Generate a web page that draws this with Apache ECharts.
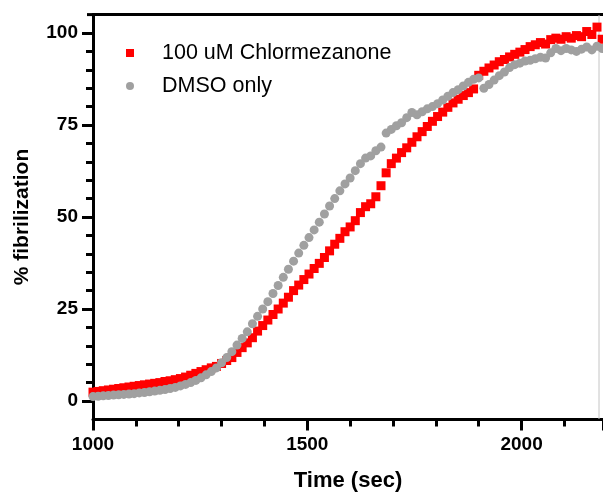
<!DOCTYPE html>
<html>
<head>
<meta charset="utf-8">
<script src="https://cdn.jsdelivr.net/npm/echarts@6/dist/echarts.min.js"></script>
<style>
  html, body { margin: 0; padding: 0; background: #fff; }
  #chart { width: 603px; height: 496px; }
</style>
</head>
<body>
<div id="chart"></div>
<script>
// sample times (sec)
const times = [
  1000, 1012, 1024, 1036, 1048, 1060, 1072, 1084, 1096, 1108,
  1120, 1132, 1144, 1156, 1168, 1180, 1192, 1204, 1216, 1228,
  1240, 1252, 1264, 1276, 1288, 1300, 1312, 1324, 1336, 1348,
  1360, 1372, 1384, 1396, 1408, 1420, 1432, 1444, 1456, 1468,
  1480, 1492, 1504, 1516, 1528, 1540, 1552, 1564, 1576, 1588,
  1600, 1612, 1624, 1636, 1648, 1660, 1672, 1684, 1696, 1708,
  1720, 1732, 1744, 1756, 1768, 1780, 1792, 1804, 1816, 1828,
  1840, 1852, 1864, 1876, 1888, 1900, 1912, 1924, 1936, 1948,
  1960, 1972, 1984, 1996, 2008, 2020, 2032, 2044, 2056, 2068,
  2080, 2092, 2104, 2116, 2128, 2140, 2152, 2164, 2176, 2188
];

// 100 uM Chlormezanone
const chlorValues = [
  2.4, 2.6, 2.8, 3.0, 3.2, 3.4, 3.6, 3.8, 4.0, 4.2,
  4.4, 4.6, 4.8, 5.0, 5.3, 5.5, 5.8, 6.1, 6.5, 7.0,
  7.5, 8.0, 8.5, 9.0, 9.4, 10.2, 11.0, 11.8, 13.2, 14.5,
  15.8, 17.2, 19.0, 20.5, 22.0, 23.5, 25.0, 26.6, 28.2, 30.0,
  31.5, 33.0, 34.5, 36.0, 37.4, 39.0, 40.8, 42.6, 44.2, 46.0,
  47.3, 49.0, 51.2, 52.8, 53.6, 55.5, 58.5, 62.0, 64.5, 66.0,
  67.5, 68.8, 70.3, 71.8, 73.2, 74.6, 76.0, 77.3, 78.5, 79.8,
  81.0, 82.0, 83.0, 83.8, 84.8, 88.5, 89.6, 90.5, 91.3, 92.2,
  92.8, 93.5, 94.2, 94.8, 95.5, 96.3, 96.8, 97.4, 97.0, 98.2,
  98.6, 98.3, 99.0, 98.6, 99.3, 99.0, 100.4, 99.6, 101.6, 98.3
];

// DMSO only
const dmsoValues = [
  1.2, 1.3, 1.4, 1.5, 1.6, 1.7, 1.8, 1.9, 2.0, 2.2,
  2.3, 2.5, 2.7, 2.9, 3.1, 3.4, 3.7, 4.1, 4.5, 5.0,
  5.6, 6.3, 7.1, 8.0, 9.0, 10.4, 11.8, 13.4, 15.2, 17.0,
  18.8, 21.0, 23.0, 25.0, 27.0, 29.2, 31.4, 33.6, 35.8, 38.0,
  40.2, 42.3, 44.4, 46.5, 48.6, 50.8, 53.0, 55.0, 57.1, 59.0,
  60.6, 62.6, 64.5, 66.0, 66.6, 68.0, 69.0, 72.8, 73.8, 74.8,
  75.6, 77.0, 78.4, 77.8, 78.6, 79.4, 80.0, 80.8, 81.8, 82.8,
  83.8, 84.6, 85.6, 86.6, 87.4, 87.8, 85.0, 86.0, 87.2, 88.4,
  89.4, 90.6, 91.4, 91.8, 92.4, 92.6, 93.0, 93.4, 93.2, 94.6,
  95.8, 95.2, 95.8, 95.4, 95.0, 95.6, 96.2, 95.4, 96.4, 95.8
];

const yMajorTicks = [0, 25, 50, 75, 100];
const yMinorTicks = [5, 10, 15, 20, 30, 35, 40, 45, 55, 60, 65, 70, 80, 85, 90, 95];

const font = '"Liberation Sans", Arial, sans-serif';

const chart = echarts.init(document.getElementById('chart'));

chart.setOption({
  animation: false,
  backgroundColor: '#fff',
  grid: { left: 93, right: 0, top: 14.6, bottom: 76.6, containLabel: false, outerBoundsMode: 'none' },
  legend: {
    orient: 'vertical',
    left: 121,
    top: 37,
    itemWidth: 8,
    itemHeight: 8,
    itemGap: 11,
    textStyle: { fontFamily: font, fontSize: 21.5, lineHeight: 22, color: '#000', padding: [0, 0, 0, 23] },
    data: [
      { name: '100 uM Chlormezanone', icon: 'rect' },
      { name: 'DMSO only', icon: 'circle' }
    ]
  },
  xAxis: [
    {
      type: 'value',
      min: 1000,
      max: 2190,
      interval: 500,
      name: 'Time (sec)',
      nameLocation: 'middle',
      nameGap: 51,
      nameTextStyle: { fontFamily: font, fontSize: 22, fontWeight: 'bold', color: '#000' },
      axisLine: { show: true, onZero: false, lineStyle: { color: '#000', width: 3 } },
      axisTick: { show: true, length: 11, lineStyle: { color: '#000', width: 3 } },
      minorTick: { show: true, splitNumber: 5, length: 7, lineStyle: { color: '#000', width: 3 } },
      axisLabel: {
        margin: 16, fontFamily: font, fontSize: 19, fontWeight: 'bold', color: '#000',
        showMaxLabel: false, hideOverlap: false,
        formatter: v => String(v)
      },
      splitLine: { show: false }
    },
    {
      type: 'value',
      position: 'top',
      min: 1000,
      max: 2190,
      axisLine: { show: true, onZero: false, lineStyle: { color: '#000', width: 3 } },
      axisTick: { show: false },
      axisLabel: { show: false },
      splitLine: { show: false }
    }
  ],
  yAxis: [
    {
      type: 'value',
      min: -5,
      max: 105,
      name: '% fibrilization',
      nameLocation: 'middle',
      nameGap: 60,
      nameTextStyle: { fontFamily: font, fontSize: 21, fontWeight: 'bold', color: '#000' },
      axisLine: { show: true, onZero: false, lineStyle: { color: '#000', width: 3 } },
      axisTick: { show: true, length: 11, customValues: yMajorTicks, lineStyle: { color: '#000', width: 3 } },
      axisLabel: { customValues: yMajorTicks, margin: 15, fontFamily: font, fontSize: 19, fontWeight: 'bold', color: '#000' },
      splitLine: { show: false }
    },
    {
      type: 'value',
      min: -5,
      max: 105,
      position: 'left',
      axisLine: { show: false },
      axisTick: { show: true, length: 7, customValues: yMinorTicks, lineStyle: { color: '#000', width: 3 } },
      axisLabel: { show: false },
      splitLine: { show: false }
    }
  ],
  graphic: [
    {
      type: 'line',
      shape: { x1: 87, y1: 14.6, x2: 93, y2: 14.6 },
      style: { stroke: '#000', lineWidth: 3 },
      z: 1
    },
    {
      type: 'line',
      shape: { x1: 599, y1: 15, x2: 599, y2: 419 },
      style: { stroke: '#c4c4c4', lineWidth: 1 },
      z: 1
    }
  ],
  series: [
    {
      name: '100 uM Chlormezanone',
      type: 'scatter',
      symbol: 'rect',
      symbolSize: 9,
      itemStyle: { color: '#ff0000', opacity: 1 },
      data: times.map((t, i) => [t, chlorValues[i]])
    },
    {
      name: 'DMSO only',
      type: 'scatter',
      symbol: 'circle',
      symbolSize: 9,
      itemStyle: { color: '#a0a0a0', opacity: 1 },
      data: times.map((t, i) => [t, dmsoValues[i]])
    }
  ]
});
</script>
</body>
</html>
